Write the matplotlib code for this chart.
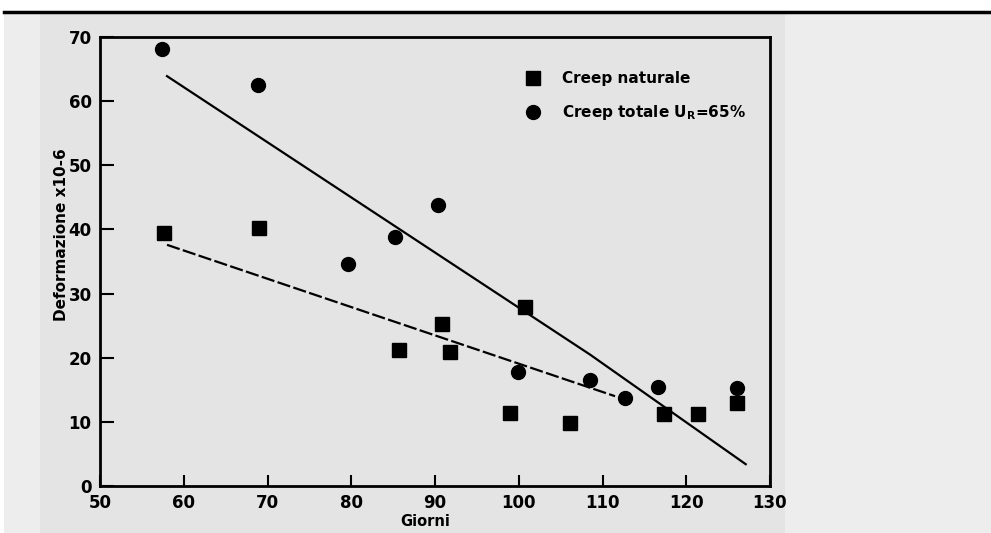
import matplotlib
matplotlib.use("Agg")
import matplotlib.pyplot as plt
from matplotlib.patches import Rectangle
from matplotlib.lines import Line2D

# Data
nat_x = [57.6, 69.0, 85.7, 90.8, 91.8, 100.7, 99.0, 106.1, 117.3, 121.4, 126.0]
nat_y = [39.4, 40.2, 21.2, 25.3, 20.9, 27.9, 11.4, 9.8, 11.2, 11.2, 12.9]
tot_x = [57.4, 68.9, 79.6, 85.2, 90.4, 99.9, 108.5, 112.7, 116.6, 126.1]
tot_y = [68.1, 62.5, 34.6, 38.8, 43.8, 17.8, 16.5, 13.7, 15.4, 15.3]
fit_tot_x = [58.0, 108.5, 127.1]
fit_tot_y = [63.9, 20.5, 3.4]
fit_nat_x = [58.0, 111.5]
fit_nat_y = [37.6, 14.0]
xticks = [50, 60, 70, 80, 90, 100, 110, 120, 130]
yticks = [0, 10, 20, 30, 40, 50, 60, 70]

W, H = 991, 533
fig = plt.figure(figsize=(W / 100, H / 100), dpi=100)
fig.patch.set_facecolor("white")

# scanned page background
fig.add_artist(Rectangle((4 / W, 0), (40 - 4) / W, (H - 14) / H, transform=fig.transFigure,
                         facecolor="#ededed", edgecolor="none", zorder=-10))
fig.add_artist(Rectangle((40 / W, 0), (785 - 40) / W, (H - 14) / H, transform=fig.transFigure,
                         facecolor="#e4e4e4", edgecolor="none", zorder=-10))
fig.add_artist(Rectangle((785 / W, 0), (W - 785) / W, (H - 14) / H, transform=fig.transFigure,
                         facecolor="#ededed", edgecolor="none", zorder=-10))
fig.add_artist(Line2D([4 / W, 1.0], [1 - 12 / H, 1 - 12 / H], transform=fig.transFigure,
                      color="black", lw=2.5))

ax = fig.add_axes([100 / W, 1 - 486 / H, 670 / W, 449 / H])
ax.set_facecolor("#e4e4e4")
ax.set_xlim(50, 130)
ax.set_ylim(0, 70)

ax.plot(fit_tot_x, fit_tot_y, color="black", lw=1.6)
ax.plot(fit_nat_x, fit_nat_y, color="black", lw=1.6, dashes=(6, 1.5))
ax.plot(nat_x, nat_y, "s", color="black", ms=10, label="Creep naturale", zorder=3)
ax.plot(tot_x, tot_y, "o", color="black", ms=10,
        label=r"Creep totale $\mathregular{U_R}$=65%", zorder=3)

for s in ax.spines.values():
    s.set_linewidth(2)
ax.set_xticks(xticks)
ax.set_yticks(yticks)
ax.tick_params(direction="in", width=1.5, labelsize=12)
ax.tick_params(axis="y", length=10, pad=6)
ax.tick_params(axis="x", length=8, pad=6)
for lab in ax.get_xticklabels() + ax.get_yticklabels():
    lab.set_fontweight("bold")

ax.set_xlabel("Giorni", fontsize=10.5, fontweight="bold", va="center")
ax.xaxis.set_label_coords(0.485, -0.08)
ax.set_ylabel("Deformazione x10-6", fontsize=11, fontweight="bold")
ax.yaxis.set_label_coords(-0.046, 0.56)

ax.legend(loc="upper left", bbox_to_anchor=(0.614, 0.954), frameon=False,
          prop={"weight": "bold", "size": 11}, handlelength=1.0,
          handletextpad=1.4, labelspacing=1.1)

fig.savefig("out.png", dpi=100, facecolor=fig.get_facecolor())
